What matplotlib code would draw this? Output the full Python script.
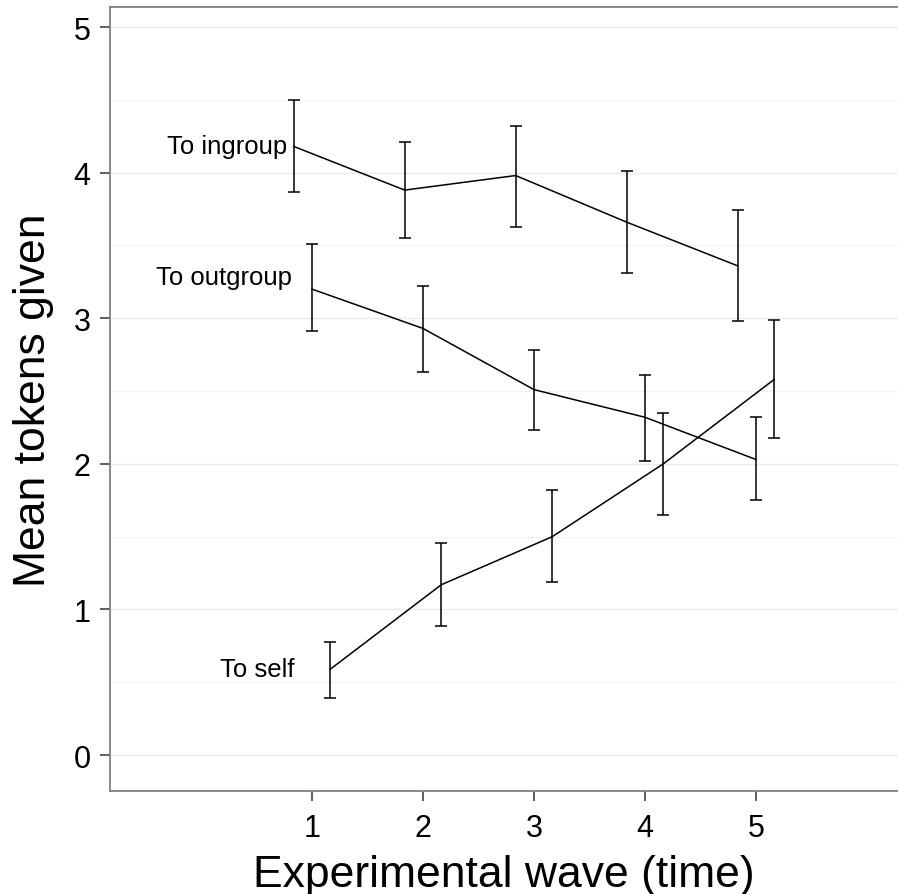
"""Mean tokens given per experimental wave, three recipient groups."""

import matplotlib

matplotlib.use("Agg")
import matplotlib.pyplot as plt
import numpy as np

plt.rcParams["font.family"] = ["Liberation Sans", "DejaVu Sans"]

# Dados (média e limites das barras de erro).
waves = np.array([1, 2, 3, 4, 5])

ingroup_mean = [4.18, 3.88, 3.98, 3.66, 3.36]
ingroup_low = [3.87, 3.55, 3.63, 3.31, 2.98]
ingroup_high = [4.50, 4.21, 4.32, 4.01, 3.74]

outgroup_mean = [3.20, 2.93, 2.51, 2.32, 2.03]
outgroup_low = [2.91, 2.63, 2.23, 2.02, 1.75]
outgroup_high = [3.51, 3.22, 2.78, 2.61, 2.32]

self_mean = [0.59, 1.17, 1.50, 2.00, 2.58]
self_low = [0.39, 0.89, 1.19, 1.65, 2.18]
self_high = [0.78, 1.46, 1.82, 2.35, 2.99]

group_names = ["To ingroup", "To outgroup", "To self"]
dodge = [-0.165, 0.0, 0.165]
label_x = [0.775, 0.82, 0.845]
label_y = [4.18, 3.28, 0.59]

fig = plt.figure(figsize=(8.98, 8.95), dpi=100)
ax = fig.add_axes([0.1225, 0.115, 0.8775, 0.876])

series = [
    (ingroup_mean, ingroup_low, ingroup_high),
    (outgroup_mean, outgroup_low, outgroup_high),
    (self_mean, self_low, self_high),
]
for (mean, low, high), dx, name, lx, ly in zip(series, dodge, group_names,
                                                label_x, label_y):
    mean = np.asarray(mean)
    yerr = [mean - np.asarray(low), np.asarray(high) - mean]
    ax.errorbar(waves + dx, mean, yerr=yerr, color="black", linewidth=1.1,
                elinewidth=1.1, capsize=4.3, capthick=1.1)
    ax.text(lx, ly, name, ha="right", va="center", fontsize=18.5)

ax.set_xlim(-0.82, 6.28)
ax.set_ylim(-0.247, 5.137)
ax.set_xticks(waves)
ax.set_yticks(range(6))
ax.set_yticks(np.arange(0.5, 5.5, 1), minor=True)
ax.tick_params(axis="both", which="major", labelsize=22, length=7,
               width=1.1, color="#333333", labelcolor="black")
ax.tick_params(axis="x", which="major", pad=9)
ax.tick_params(axis="y", which="major", pad=7)
ax.tick_params(axis="y", which="minor", length=0)
ax.grid(axis="y", which="major", color="#ebebeb", linewidth=1)
ax.grid(axis="y", which="minor", color="#f3f3f3", linewidth=1)
ax.set_axisbelow(True)

for side in ("left", "bottom", "top"):
    ax.spines[side].set_color("#808080")
    ax.spines[side].set_linewidth(1.3)
ax.spines["right"].set_visible(False)

ax.set_xlabel("Experimental wave (time)", fontsize=32, labelpad=8)
ax.set_ylabel("Mean tokens given", fontsize=32, labelpad=14)

fig.savefig("out.png", dpi=100, facecolor="white")
